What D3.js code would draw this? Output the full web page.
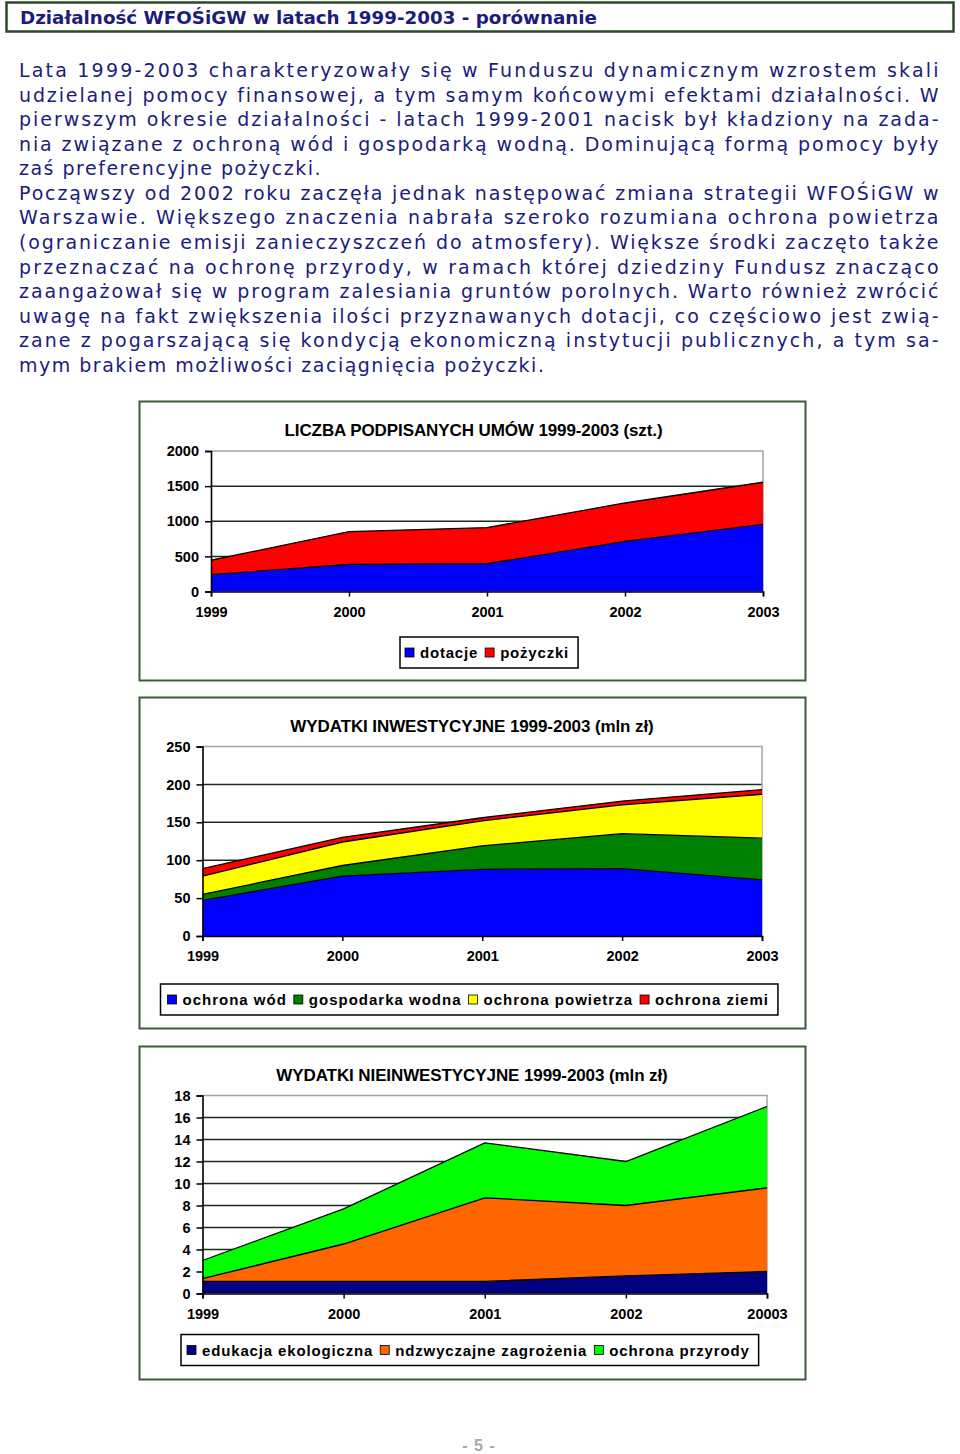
<!DOCTYPE html>
<html lang="pl">
<head>
<meta charset="utf-8">
<script src="https://cdn.jsdelivr.net/npm/d3@7"></script>
<style>
  html, body { margin: 0; padding: 0; background: #fff; }
  svg { display: block; }
</style>
</head>
<body>
<svg id="page" width="960" height="1454"></svg>
<script>
// ---------------- DATA ----------------
const pageTitle = "Działalność WFOŚiGW w latach 1999-2003 - porównanie";
const bodyLines = [
  "Lata 1999-2003 charakteryzowały się w Funduszu dynamicznym wzrostem skali",
  "udzielanej pomocy finansowej, a tym samym końcowymi efektami działalności. W",
  "pierwszym okresie działalności - latach 1999-2001 nacisk był kładziony na zada-",
  "nia związane z ochroną wód i gospodarką wodną. Dominującą formą pomocy były",
  "zaś preferencyjne pożyczki.",
  "Począwszy od 2002 roku zaczęła jednak następować zmiana strategii WFOŚiGW w",
  "Warszawie. Większego znaczenia nabrała szeroko rozumiana ochrona powietrza",
  "(ograniczanie emisji zanieczyszczeń do atmosfery). Większe środki zaczęto także",
  "przeznaczać na ochronę przyrody, w ramach której dziedziny Fundusz znacząco",
  "zaangażował się w program zalesiania gruntów porolnych. Warto również zwrócić",
  "uwagę na fakt zwiększenia ilości przyznawanych dotacji, co częściowo jest zwią-",
  "zane z pogarszającą się kondycją ekonomiczną instytucji publicznych, a tym sa-",
  "mym brakiem możliwości zaciągnięcia pożyczki."
];
const paragraphEnds = [4, 12];   // indices of last lines of paragraphs
const pageNumber = "- 5 -";

const years = ["1999", "2000", "2001", "2002", "2003"];

// Chart 1: LICZBA PODPISANYCH UMÓW (szt.)
const chart1Title = "LICZBA PODPISANYCH UMÓW 1999-2003 (szt.)";
const chart1Labels = ["1999", "2000", "2001", "2002", "2003"];
const chart1Series = ["dotacje", "pożyczki"];
const dotacje  = [240, 385, 395, 715, 955];
const pozyczki = [205, 468, 515, 545, 600];
const chart1Ticks = [0, 500, 1000, 1500, 2000];

// Chart 2: WYDATKI INWESTYCYJNE (mln zł)
const chart2Title = "WYDATKI INWESTYCYJNE 1999-2003 (mln zł)";
const chart2Labels = ["1999", "2000", "2001", "2002", "2003"];
const chart2Series = ["ochrona wód", "gospodarka wodna", "ochrona powietrza", "ochrona ziemi"];
const ochronaWod       = [47, 79, 88, 89, 74];
const gospodarkaWodna  = [8, 14, 31, 46, 55];
const ochronaPowietrza = [24, 31, 33, 38, 58];
const ochronaZiemi     = [10, 6, 4, 5, 6];
const chart2Ticks = [0, 50, 100, 150, 200, 250];

// Chart 3: WYDATKI NIEINWESTYCYJNE (mln zł)
const chart3Title = "WYDATKI NIEINWESTYCYJNE 1999-2003 (mln zł)";
const chart3Labels = ["1999", "2000", "2001", "2002", "20003"];
const chart3Series = ["edukacja ekologiczna", "ndzwyczajne zagrożenia", "ochrona przyrody"];
const edukacja     = [1.1, 1.1, 1.1, 1.6, 2.0];
const nadzwyczajne = [0.25, 3.4, 7.6, 6.4, 7.6];
const przyroda     = [1.65, 3.2, 5.0, 4.0, 7.4];
const chart3Ticks = [0, 2, 4, 6, 8, 10, 12, 14, 16, 18];

// ---------------- DRAWING ----------------
const svg = d3.select("#page");
svg.append("rect").attr("width", 960).attr("height", 1454).attr("fill", "#fff");

const NAVY = "#1c1c7c";
const chartFont = "'Liberation Sans', Arial, sans-serif";

// Header
svg.append("rect").attr("x", 6.5).attr("y", 2.5).attr("width", 947).attr("height", 29)
  .attr("fill", "#fff").attr("stroke", "#2b4a27").attr("stroke-width", 2.5);
svg.append("text").attr("x", 20).attr("y", 24)
  .attr("font-family", "'DejaVu Sans', Verdana, sans-serif").attr("font-weight", "bold")
  .attr("font-size", 17).attr("fill", NAVY)
  .attr("textLength", 577).attr("lengthAdjust", "spacingAndGlyphs")
  .text(pageTitle);

// Body text (justified)
const body = svg.append("g").attr("font-family", "'DejaVu Sans', Verdana, sans-serif")
  .attr("font-size", 19).attr("fill", NAVY);
bodyLines.forEach((line, i) => {
  const t = body.append("text").attr("x", 19).attr("y", 77 + i * 24.58)
    .attr("letter-spacing", 1.5).text(line);
  if (!paragraphEnds.includes(i)) {
    t.attr("textLength", 921).attr("lengthAdjust", "spacing");
  }
});

function drawChart(cfg) {
  const g = svg.append("g");
  // frame
  g.append("rect").attr("x", cfg.box[0]).attr("y", cfg.box[1])
    .attr("width", cfg.box[2]).attr("height", cfg.box[3])
    .attr("fill", "#fff").attr("stroke", "#3d5d3a").attr("stroke-width", 2);

  const x = d3.scalePoint().domain(cfg.years).range([cfg.left, cfg.right]);
  const y = d3.scaleLinear().domain([0, d3.max(cfg.ticks)]).range([cfg.bottom, cfg.top]);

  // title
  g.append("text").attr("x", cfg.titleX).attr("y", cfg.titleY)
    .attr("text-anchor", "middle").attr("font-family", chartFont)
    .attr("font-weight", "bold").attr("font-size", 17).attr("letter-spacing", -0.1)
    .attr("fill", "#000").text(cfg.title);

  // gridlines (under areas)
  g.append("g").selectAll("line").data(cfg.ticks.filter(t => t > 0 && t < d3.max(cfg.ticks)))
    .join("line")
    .attr("x1", cfg.left).attr("x2", cfg.right)
    .attr("y1", d => y(d)).attr("y2", d => y(d))
    .attr("stroke", "#1b2e1b").attr("stroke-width", 1.5);
  // plot top & right border (grey)
  g.append("path")
    .attr("d", `M${cfg.left},${y(d3.max(cfg.ticks))}H${cfg.right}V${cfg.bottom}`)
    .attr("fill", "none").attr("stroke", "#a4a4a4").attr("stroke-width", 1.5);

  // stacked areas
  const rows = cfg.years.map((yr, i) => {
    const o = { year: yr };
    cfg.keys.forEach((k, j) => o[k] = cfg.values[j][i]);
    return o;
  });
  const stacked = d3.stack().keys(cfg.keys)(rows);
  const area = d3.area().x(d => x(d.data.year)).y0(d => y(d[0])).y1(d => y(d[1]));
  const line = d3.line().x(d => x(d.data.year)).y(d => y(d[1]));
  g.append("g").selectAll("path").data(stacked).join("path")
    .attr("d", area).attr("fill", (d, i) => cfg.colors[i]);
  g.append("g").selectAll("path").data(stacked).join("path")
    .attr("d", line).attr("fill", "none").attr("stroke", "#000").attr("stroke-width", 1.3);

  // y axis
  const ya = g.append("g").attr("transform", `translate(${cfg.left},0)`)
    .call(d3.axisLeft(y).tickValues(cfg.ticks).tickSize(6).tickPadding(6).tickFormat(d3.format("d")));
  ya.select(".domain").attr("stroke", "#000").attr("stroke-width", 1.6);
  ya.selectAll(".tick line").attr("stroke", "#000").attr("stroke-width", 1.5);
  ya.selectAll(".tick text").attr("font-family", chartFont).attr("font-weight", "bold")
    .attr("font-size", 14.5).attr("fill", "#000");

  // x axis
  const xa = g.append("g").attr("transform", `translate(0,${cfg.bottom})`)
    .call(d3.axisBottom(x).tickSize(5).tickPadding(8).tickFormat((d, i) => cfg.xLabels[i]));
  xa.select(".domain").attr("stroke", "#000").attr("stroke-width", 1.6);
  xa.selectAll(".tick line").attr("stroke", "#000").attr("stroke-width", 1.5);
  xa.selectAll(".tick text").attr("font-family", chartFont).attr("font-weight", "bold")
    .attr("font-size", 14.5).attr("fill", "#000").attr("dy", "0.85em");

  // legend
  const lg = g.append("g");
  const lbox = lg.append("rect").attr("y", cfg.legendY).attr("height", 31)
    .attr("fill", "#fff").attr("stroke", "#000").attr("stroke-width", 1.5);
  let cx = cfg.legendX + cfg.legendPad;
  cfg.keys.forEach((k, i) => {
    lg.append("rect").attr("x", cx).attr("y", cfg.legendY + 11).attr("width", 9).attr("height", 9)
      .attr("fill", cfg.colors[i]).attr("stroke", "#000").attr("stroke-width", 0.8);
    cx += 15;
    const t = lg.append("text").attr("x", cx).attr("y", cfg.legendY + 21)
      .attr("font-family", chartFont).attr("font-weight", "bold").attr("font-size", 15)
      .attr("letter-spacing", cfg.legendLS).attr("fill", "#000").text(k);
    cx += t.node().getComputedTextLength() + 7;
  });
  lbox.attr("x", cfg.legendX).attr("width", cx - cfg.legendX + 2);
}

drawChart({
  box: [139.5, 401.5, 666, 279],
  left: 211, right: 763, top: 451, bottom: 591.5,
  years, xLabels: chart1Labels, ticks: chart1Ticks,
  title: chart1Title, titleX: 473.5, titleY: 435.5,
  keys: chart1Series, values: [dotacje, pozyczki],
  colors: ["#0000ff", "#ff0000"],
  legendX: 400, legendY: 637, legendPad: 5, legendLS: 0.8
});

drawChart({
  box: [139.5, 697.5, 666, 331],
  left: 202.5, right: 762, top: 746.5, bottom: 936,
  years, xLabels: chart2Labels, ticks: chart2Ticks,
  title: chart2Title, titleX: 472, titleY: 732,
  keys: chart2Series, values: [ochronaWod, gospodarkaWodna, ochronaPowietrza, ochronaZiemi],
  colors: ["#0000ff", "#008000", "#ffff00", "#ff0000"],
  legendX: 160.5, legendY: 984, legendPad: 7, legendLS: 1.0
});

drawChart({
  box: [139.5, 1046.5, 666, 333],
  left: 202.5, right: 767, top: 1095.5, bottom: 1293.5,
  years, xLabels: chart3Labels, ticks: chart3Ticks,
  title: chart3Title, titleX: 472, titleY: 1081,
  keys: chart3Series, values: [edukacja, nadzwyczajne, przyroda],
  colors: ["#000080", "#ff6600", "#00ff00"],
  legendX: 181, legendY: 1334.5, legendPad: 6, legendLS: 0.85
});

// page number
svg.append("text").attr("x", 479).attr("y", 1451).attr("text-anchor", "middle")
  .attr("font-family", chartFont).attr("font-weight", "bold").attr("font-size", 16)
  .attr("letter-spacing", 1).attr("fill", "#a8a8a8").text(pageNumber);
</script>
</body>
</html>
